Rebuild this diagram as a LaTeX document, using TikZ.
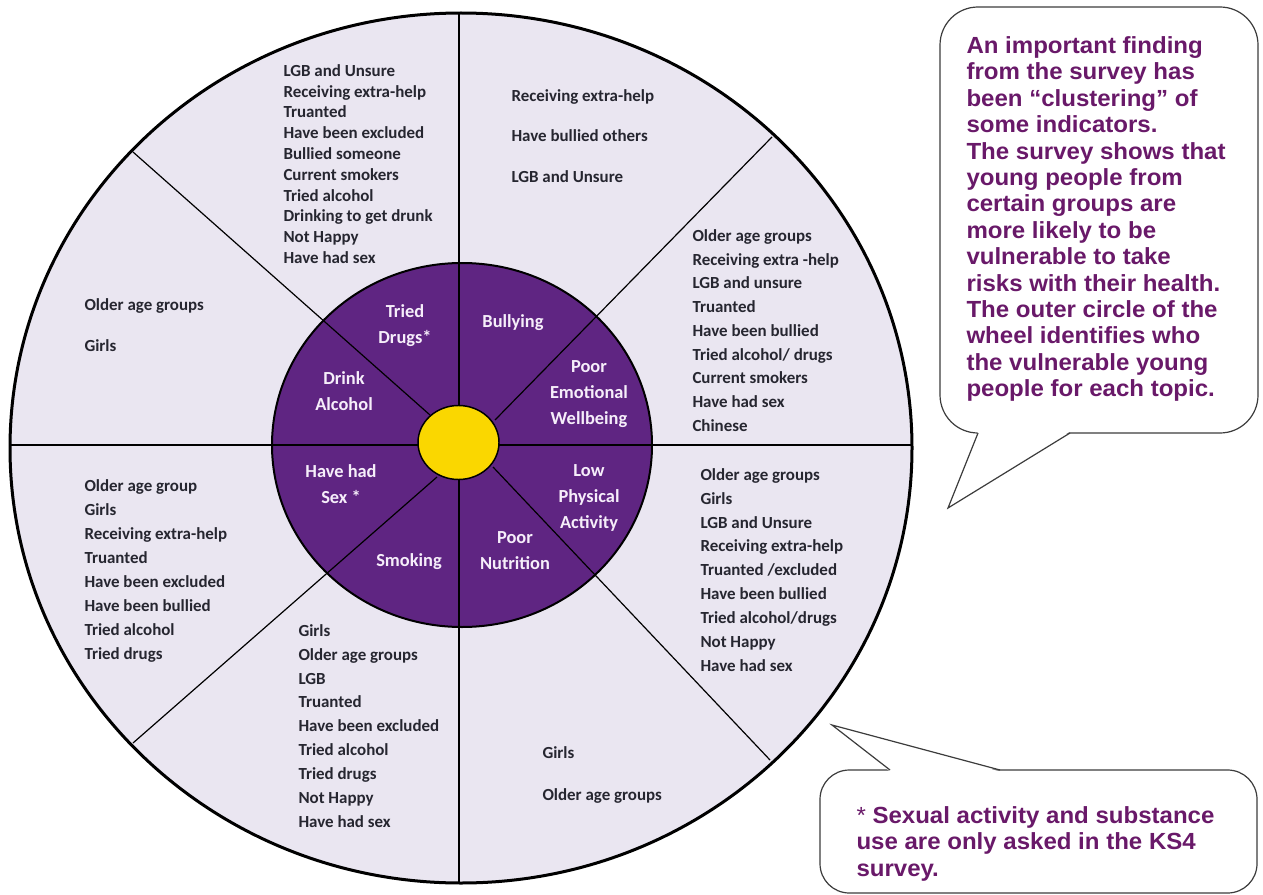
\documentclass[tikz,border=0pt]{standalone}
\usepackage{fontspec}
\usepackage{tikz}
\newfontfamily\wheelfam{Carlito}
\newfontfamily\notefam[FakeStretch=1.03]{Liberation Sans}
\newcommand{\wheelfont}[1]{\wheelfam\bfseries\fontsize{12.7}{#1}\selectfont}
\tikzset{every picture/.style={line width=0.75pt}}
\tikzset{
  divider/.style={draw={rgb, 255:red, 0; green, 0; blue, 0 }, line width=0.9pt},
  bubble/.style={draw={rgb, 255:red, 60; green, 60; blue, 60 }, fill=white, line width=0.9pt},
  wheeltext/.style={font=\wheelfont{#1}, text={rgb, 255:red, 38; green, 38; blue, 48 }, inner sep=0.75pt, align=left},
  hublabel/.style={font=\wheelfam\bfseries\fontsize{13.8}{19.4}\selectfont, text={rgb, 255:red, 246; green, 238; blue, 250 }, inner sep=0.75pt, align=center},
  notetext/.style={font=\notefam\bfseries\fontsize{17.5}{19.8}\selectfont, text={rgb, 255:red, 105; green, 25; blue, 105 }, inner sep=0.75pt, align=left}
}

\begin{document}
\begin{tikzpicture}[x=0.75pt,y=0.75pt,yscale=-1,xscale=1]
\useasboundingbox (0,0) rectangle (1263,895);

%Shape: Ellipse (outer wheel)
\fill [color={rgb, 255:red, 234; green, 230; blue, 241 }] (461,448) ellipse [x radius=451, y radius=435];
%Shape: Ellipse (inner ring)
\fill [color={rgb, 255:red, 95; green, 37; blue, 130 }] (462,445) ellipse [x radius=190, y radius=182];

%Straight Lines
\draw [divider] (459,13) -- (459,883) ;
\draw [divider] (10,445) -- (912,445) ;
\draw [divider] (133,152) -- (430,415) ;
\draw [divider] (772,137) -- (495,420) ;
\draw [divider] (133,743) -- (437,477) ;
\draw [divider] (770,760) -- (493,467) ;

%Shape: Ellipse
\draw [line width=1.5pt] (462,445) ellipse [x radius=190, y radius=182];
%Shape: Ellipse (hub)
\draw [line width=1.1pt, fill={rgb, 255:red, 250; green, 215; blue, 0 }] (458.5,442.5) ellipse [x radius=40.5, y radius=37];
%Shape: Ellipse
\draw [line width=2.25pt] (461,448) ellipse [x radius=451, y radius=435];

% Text Node
\draw (405,325.5) node (drugsHub) [hublabel] {Tried\\Drugs*};
% Text Node
\draw (513,323) node (bullyHub) [hublabel] {Bullying};
% Text Node
\draw (589,394) node (emoHub) [hublabel] {Poor\\Emotional\\Wellbeing};
% Text Node
\draw (344,391) node (alcoHub) [hublabel] {Drink\\Alcohol};
% Text Node
\draw (341,484) node (sexHub) [hublabel] {Have had\\Sex *};
% Text Node
\draw (409,562) node (smokeHub) [hublabel] {Smoking};
% Text Node
\draw (589,498) node (activeHub) [hublabel] {Low\\Physical\\Activity};
% Text Node
\draw (515,551) node (foodHub) [hublabel] {Poor\\Nutrition};

% Text Node
\draw (282,63) node (drugsList) [anchor=north west][wheeltext=15.6pt] {LGB and Unsure\\Receiving extra-help\\Truanted\\Have been excluded\\Bullied someone\\Current smokers\\Tried alcohol\\Drinking to get drunk\\Not Happy\\Have had sex};
% Text Node
\draw (510,88) node (bullyList) [anchor=north west][wheeltext=30.4pt] {Receiving extra-help\\Have bullied others\\LGB and Unsure};
% Text Node
\draw (691,228) node (emoList) [anchor=north west][wheeltext=17.8pt] {Older age groups\\Receiving extra -help\\LGB and unsure\\Truanted\\Have been bullied\\Tried alcohol/ drugs\\Current smokers\\Have had sex\\Chinese};
% Text Node
\draw (83,297) node (alcoList) [anchor=north west][wheeltext=30.75pt] {Older age groups\\Girls};
% Text Node
\draw (83,478) node (sexList) [anchor=north west][wheeltext=18pt] {Older age group\\Girls\\Receiving extra-help\\Truanted\\Have been excluded\\Have been bullied\\Tried alcohol\\Tried drugs};
% Text Node
\draw (297,623) node (smokeList) [anchor=north west][wheeltext=17.9pt] {Girls\\Older age groups\\LGB\\Truanted\\Have been excluded\\Tried alcohol\\Tried drugs\\Not Happy\\Have had sex};
% Text Node
\draw (699,467) node (activeList) [anchor=north west][wheeltext=17.9pt] {Older age groups\\Girls\\LGB and Unsure\\Receiving extra-help\\Truanted /excluded\\Have been bullied\\Tried alcohol/drugs\\Not Happy\\Have had sex};
% Text Node
\draw (541,745) node (foodList) [anchor=north west][wheeltext=31.5pt] {Girls\\Older age groups};

%Shape: Callout (finding)
\draw [bubble, rounded corners=28.5pt] (940,7) rectangle (1258,433) ;
\fill [white] (1070,431.5) -- (948,508) -- (978,431.5) -- cycle ;
\draw [bubble, fill=none] (978,433) -- (948,508) -- (1070,433) ;
%Shape: Callout (footnote)
\draw [bubble, rounded corners=22pt] (820,770) rectangle (1257,893) ;
\fill [white] (890,771.5) -- (832,725) -- (1000,771.5) -- cycle ;
\draw [bubble, fill=none] (890,770) -- (832,725) -- (1000,770) ;

% Text Node
\draw (965,35) node (findingNote) [anchor=north west][notetext] {An important finding\\from the survey has\\been “clustering” of\\some indicators.\\The survey shows that\\young people from\\certain groups are\\more likely to be\\vulnerable to take\\risks with their health.\\The outer circle of the\\wheel identifies who\\the vulnerable young\\people for each topic.};
% Text Node
\draw (855,805) node (surveyNote) [anchor=north west][notetext] {{\mdseries *} Sexual activity and substance\\use are only asked in the KS4\\survey.};

\end{tikzpicture}
\end{document}
